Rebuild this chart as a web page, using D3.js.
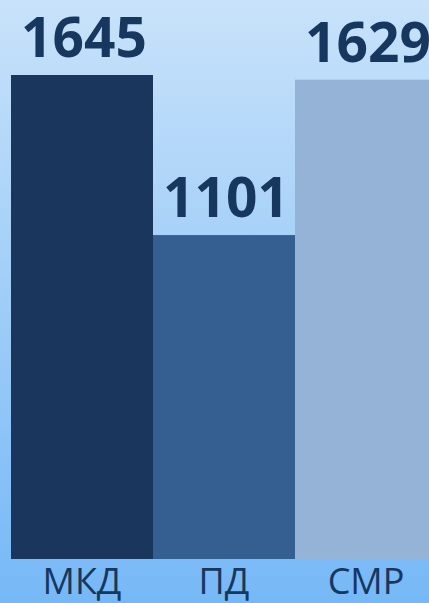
<html>
<head>
<script src="https://cdn.jsdelivr.net/npm/d3@7"></script>
<style>
body { margin: 0; overflow: hidden; }
</style>
</head>
<body>
<div id="canvas"></div>
<script>
var categories = ["МКД", "ПД", "СМР"];
var values = [1645, 1101, 1629];
var colors = ["#1a365d", "#355f91", "#95b3d7"];

var width = 429, height = 603;

var svg = d3.select("#canvas").append("svg")
    .attr("width", width)
    .attr("height", height);

var grad = svg.append("defs").append("linearGradient")
    .attr("id", "bg").attr("x1", 0).attr("y1", 0).attr("x2", 0).attr("y2", 1);
grad.append("stop").attr("offset", "0%").attr("stop-color", "#c8e2fa");
grad.append("stop").attr("offset", "100%").attr("stop-color", "#76b8f6");

svg.append("rect").attr("width", width).attr("height", height).attr("fill", "url(#bg)");

var x = d3.scaleBand().domain(categories).range([11, 437]).padding(0);
var y = d3.scaleLinear().domain([0, 1645]).range([559, 75]);

svg.selectAll("rect.bar")
    .data(values)
    .enter()
    .append("rect")
    .attr("class", "bar")
    .attr("x", function(d, i) { return x(categories[i]); })
    .attr("y", function(d) { return y(d); })
    .attr("width", x.bandwidth())
    .attr("height", function(d) { return y(0) - y(d); })
    .attr("fill", function(d, i) { return colors[i]; });

svg.selectAll("text.val")
    .data(values)
    .enter()
    .append("text")
    .attr("class", "val")
    .attr("x", function(d, i) { return x(categories[i]) + x.bandwidth() / 2 + 2; })
    .attr("y", function(d) { return y(d) - 18; })
    .attr("text-anchor", "middle")
    .style("font-family", "Open Sans")
    .style("font-weight", "bold")
    .style("font-size", "55px")
    .style("fill", "#17375e")
    .text(function(d) { return d; });

svg.selectAll("text.cat")
    .data(categories)
    .enter()
    .append("text")
    .attr("class", "cat")
    .attr("x", function(d) { return x(d) + x.bandwidth() / 2; })
    .attr("y", 594)
    .attr("text-anchor", "middle")
    .style("font-family", "Open Sans")
    .style("font-size", "36px")
    .style("fill", "#17375e")
    .text(function(d) { return d; });
</script>
</body>
</html>
